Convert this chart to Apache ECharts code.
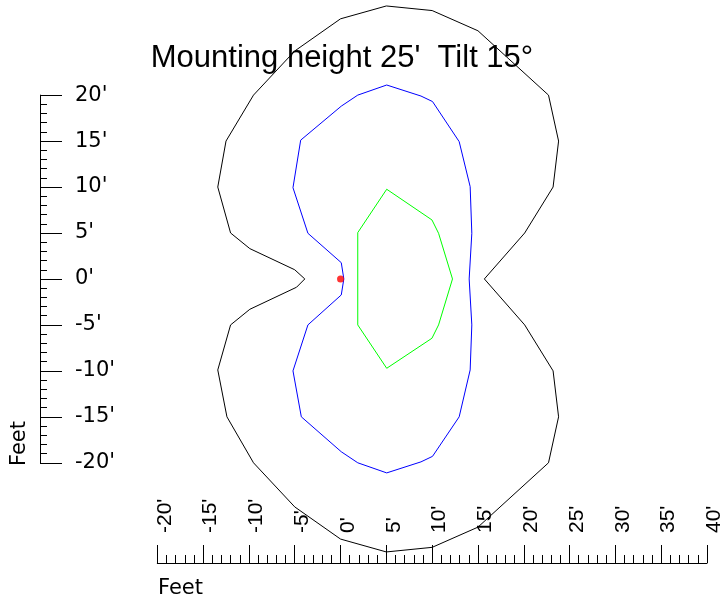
<!DOCTYPE html>
<html>
<head>
<meta charset="utf-8">
<script src="https://cdn.jsdelivr.net/npm/echarts@6/dist/echarts.min.js"></script>
<style>html,body{margin:0;padding:0;background:#fff;}#c{width:725px;height:602px;}</style>
</head>
<body>
<div id="c"></div>
<script>
// ---- data (feet) ----
const titleText = "Mounting height 25'  Tilt 15°";
const axisName = "Feet";
const xTickMin = -20, xTickMax = 40, tickStep = 5;
const yTickMin = -20, yTickMax = 20;
const outerContour = [
  [0, 28.3], [5, 29.7], [10, 29.2], [15, 27], [22.7, 20], [23.8, 15], [23.2, 10], [20.1, 5], [15.7, 0],
  [20.1, -5], [23.2, -10], [23.8, -15], [22.7, -20], [15, -27], [10, -29.2], [5, -29.7], [0, -28.3],
  [-5, -24.8], [-9.5, -20], [-12.4, -15], [-13.4, -9.9], [-12, -5], [-9.9, -3.3], [-4.8, -0.9], [-3.9, 0],
  [-5, 1], [-9.9, 3.3], [-12, 5], [-13.4, 10], [-12.5, 15], [-9.5, 20], [-5, 24.8], [0, 28.3]
];
const middleContour = [
  [5.04, 21.1], [8.78, 19.9], [10.04, 19.3], [12.95, 14.94], [14.15, 10.04], [14.33, 4.97], [14.04, 0],
  [14.33, -5], [14.15, -9.9], [12.95, -15], [10.04, -19.3], [8.78, -19.9], [5.04, -21.1], [1.88, -20],
  [0.08, -18.8], [-4.28, -15], [-5.19, -10], [-3.56, -5], [0.08, -1.74], [0.36, 0], [0.08, 1.77],
  [-3.56, 4.97], [-5.19, 9.93], [-4.35, 15.1], [0.08, 18.8], [1.88, 20], [5.04, 21.1]
];
const innerContour = [
  [5.04, 9.76], [9.98, 6.42], [10.7, 4.97], [12.22, 0], [10.7, -5], [9.98, -6.45], [5.04, -9.72],
  [1.88, -5], [1.88, 5.04], [5.04, 9.76]
];
const luminaire = [[0, 0]];

const chart = echarts.init(document.getElementById('c'), null, {renderer: 'canvas'});
const lineSeries = (data, color) => ({
  type: 'line', data: data, xAxisIndex: 0, yAxisIndex: 0, showSymbol: false, symbol: 'none',
  lineStyle: {color: color, width: 1}, clip: false, silent: true, z: 3
});
const tickFmt = v => v + "'";
chart.setOption({
  animation: false,
  backgroundColor: '#fff',
  title: {
    text: titleText, left: 337, top: 38, textAlign: 'center',
    textStyle: {fontFamily: 'Liberation Sans', fontSize: 31, fontWeight: 'normal', color: '#000'}
  },
  grid: [
    {left: 157.3, right: 16.3, top: 3.2, height: 551.5, containLabel: false},
    {left: 40, top: 95.1, height: 367.7, width: 10, containLabel: false}
  ],
  xAxis: [
    {
      gridIndex: 0, type: 'value', min: xTickMin, max: xTickMax, interval: tickStep, position: 'bottom', offset: 8.3,
      axisLine: {show: true, onZero: false, lineStyle: {color: '#000', width: 1}},
      axisTick: {show: true, inside: true, length: 18, lineStyle: {color: '#000', width: 1}},
      minorTick: {show: true, splitNumber: 5, length: 8, lineStyle: {color: '#000', width: 1}},
      splitLine: {show: false},
      axisLabel: {show: true, inside: true, rotate: 90, margin: 30, formatter: tickFmt, verticalAlign: 'top', lineHeight: 15,
        fontFamily: 'Liberation Sans', fontSize: 21, color: '#000', showMinLabel: true, showMaxLabel: true}
    },
    {gridIndex: 1, type: 'value', show: false, min: 0, max: 1}
  ],
  yAxis: [
    {gridIndex: 0, type: 'value', show: false, min: -30, max: 30},
    {
      gridIndex: 1, type: 'value', min: yTickMin, max: yTickMax, interval: tickStep, position: 'left',
      axisLine: {show: true, onZero: false, lineStyle: {color: '#000', width: 1}},
      axisTick: {show: true, inside: true, length: 22, lineStyle: {color: '#000', width: 1}},
      minorTick: {show: true, splitNumber: 5, length: 7, lineStyle: {color: '#000', width: 1}},
      splitLine: {show: false},
      axisLabel: {show: true, inside: true, margin: 35, formatter: tickFmt, padding: [7, 0, 0, 0],
        fontFamily: 'DejaVu Sans', fontSize: 21, color: '#000', showMinLabel: true, showMaxLabel: true}
    }
  ],
  graphic: [
    {type: 'text', left: 158, top: 578, style: {text: axisName, font: '21px "DejaVu Sans"', fill: '#000'}},
    {type: 'text', x: 20, y: 443.5, rotation: Math.PI / 2,
      style: {text: axisName, font: '21px "DejaVu Sans"', fill: '#000', align: 'center', verticalAlign: 'middle'}}
  ],
  series: [
    lineSeries(outerContour, '#000000'),
    lineSeries(middleContour, '#0000ff'),
    lineSeries(innerContour, '#00ff00'),
    {type: 'scatter', data: luminaire, xAxisIndex: 0, yAxisIndex: 0, symbol: 'circle', symbolSize: 7,
      itemStyle: {color: '#ff0000'}, silent: true, z: 4}
  ]
});
</script>
</body>
</html>
